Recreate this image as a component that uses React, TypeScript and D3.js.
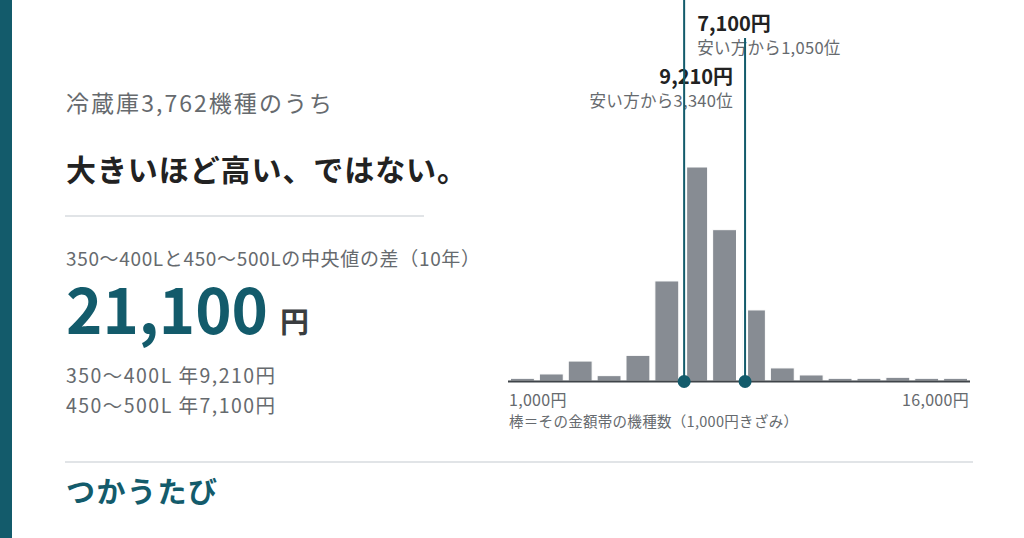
import React from "react";
import * as d3 from "d3";

// 1,000円きざみの金額帯（下限）と機種数
const binStarts = [1000, 2000, 3000, 4000, 5000, 6000, 7000, 8000, 9000, 10000, 11000, 12000, 13000, 14000, 15000, 16000];
const binCounts = [16, 42, 119, 32, 153, 597, 1277, 903, 424, 78, 36, 16, 16, 22, 16, 16];

// 中央値のマーカー
const markerPrices = [7100, 9210];
const markerRanks = [1050, 3340];
const markerSides = ["right", "left"];

const axisLabels = ["1,000円", "16,000円"];

const W = 1024;
const H = 538;
const TEAL = "#135b6b";
const BAR = "#878c93";
const GREY = "#666a6e";
const FONT = "'Noto Sans CJK JP', 'Noto Sans', sans-serif";

const fmt = d3.format(",");

export default function App() {
  const x = d3.scaleLinear().domain([1000, 17000]).range([508, 970]);
  const y = d3.scaleLinear().domain([0, 1277]).range([381, 167]);
  const base = y(0);

  return (
    <svg
      width={W}
      height={H}
      style={{ position: "absolute", left: 0, top: 0, background: "#fff" }}
      fontFamily={FONT}
    >
      <rect x={0} y={0} width={12} height={H} fill={TEAL} />

      {/* left text block */}
      <text x={66} y={112} fontSize={23} fill={GREY} textLength={266} lengthAdjust="spacing">
        冷蔵庫3,762機種のうち
      </text>
      <text x={66} y={181} fontSize={30} fontWeight={700} fill="#222" textLength={401} lengthAdjust="spacing">
        大きいほど高い、ではない。
      </text>
      <line x1={65} x2={424} y1={216} y2={216} stroke="#e1e4e7" strokeWidth={2} />
      <text x={66} y={266} fontSize={19} fill={GREY} textLength={414} lengthAdjust="spacing">
        350〜400Lと450〜500Lの中央値の差（10年）
      </text>
      <text x={66} y={334} fontSize={64} fontWeight={700} fill={TEAL} textLength={202} lengthAdjust="spacingAndGlyphs">
        21,100
      </text>
      <text x={280} y={333} fontSize={29} fontWeight={600} fill="#3a3d40">
        円
      </text>
      <text x={66} y={383} fontSize={19.5} fill={GREY} textLength={209} lengthAdjust="spacing">
        350〜400L 年9,210円
      </text>
      <text x={66} y={413} fontSize={19.5} fill={GREY} textLength={209} lengthAdjust="spacing">
        450〜500L 年7,100円
      </text>

      {/* histogram */}
      <g>
        {binStarts.map((b, i) => (
          <rect
            key={b}
            x={x(b) + 2.5}
            y={y(binCounts[i])}
            width={x(b + 1000) - x(b) - 5}
            height={base - y(binCounts[i])}
            fill={BAR}
            stroke="#fff"
            strokeWidth={1}
          />
        ))}
      </g>
      <line x1={508} x2={970} y1={base + 0.5} y2={base + 0.5} stroke="#3f4449" strokeWidth={2} />

      {/* white halo behind the marker lines */}
      {markerPrices.map((p, i) => (
        <line
          key={p}
          x1={x(p)}
          x2={x(p)}
          y1={markerSides[i] === "right" ? 0 : 38}
          y2={base}
          stroke="#fff"
          strokeWidth={6}
        />
      ))}

      {/* marker labels */}
      {markerPrices.map((p, i) => {
        const right = markerSides[i] === "right";
        const lx = right ? x(p) + 13 : x(p) - 12;
        const top = right ? 31 : 84;
        return (
          <g key={p} textAnchor={right ? "start" : "end"}>
            <text x={lx} y={top} fontSize={20} fontWeight={700} fill="#222">
              {fmt(p)}円
            </text>
            <text x={lx} y={top + 23} fontSize={16.5} fill={GREY} letterSpacing={0.3}>
              安い方から{fmt(markerRanks[i])}位
            </text>
          </g>
        );
      })}

      {/* marker lines */}
      {markerPrices.map((p, i) => {
        const right = markerSides[i] === "right";
        const y1 = right ? 0 : 38;
        return (
          <g key={p}>
            <line x1={x(p)} x2={x(p)} y1={y1} y2={base} stroke={TEAL} strokeWidth={2} />
            <circle cx={x(p)} cy={base + 0.5} r={6.5} fill={TEAL} />
          </g>
        );
      })}

      {/* axis labels */}
      <text x={509} y={406} fontSize={16} fill={GREY} letterSpacing={0.3}>
        {axisLabels[0]}
      </text>
      <text x={969} y={406} fontSize={16} fill={GREY} textAnchor="end" letterSpacing={0.3}>
        {axisLabels[1]}
      </text>
      <text x={509} y={427} fontSize={14.5} fill={GREY} textLength={289} lengthAdjust="spacing">
        棒＝その金額帯の機種数（1,000円きざみ）
      </text>

      {/* bottom section */}
      <line x1={65} x2={973} y1={462} y2={462} stroke="#e1e4e7" strokeWidth={2} />
      <text x={66} y={503} fontSize={29} fontWeight={700} fill={TEAL} textLength={151} lengthAdjust="spacing">
        つかうたび
      </text>
    </svg>
  );
}
